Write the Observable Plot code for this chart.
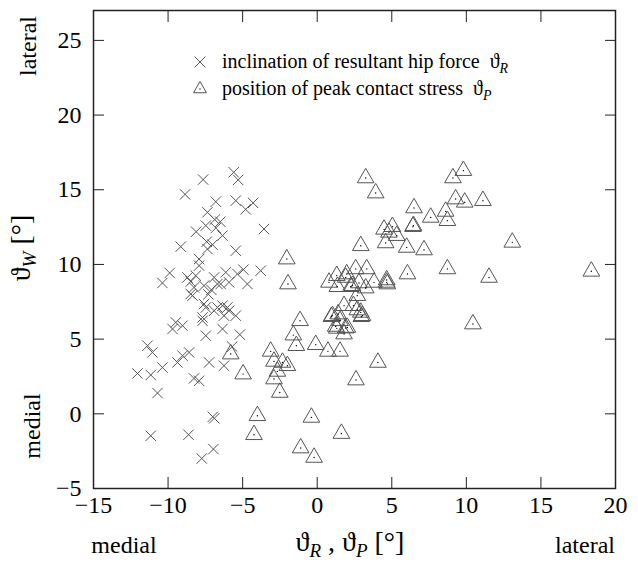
<!DOCTYPE html>
<html><head><meta charset="utf-8">
<script src="https://cdn.jsdelivr.net/npm/d3@7"></script>
<script src="https://cdn.jsdelivr.net/npm/@observablehq/plot@0.6"></script>
<style>body{margin:0;background:#fff}</style>
</head><body><div id="chart"></div>
<script>
const xTicks = [-15, -10, -5, 0, 5, 10, 15, 20];
const yTicks = [-5, 0, 5, 10, 15, 20, 25];

// inclination of resultant hip force (crosses)
const resultantX = [-5.6,-5.3,-7.65,-8.86,-6.8,-5.46,-4.3,-4.8,-7.36,-6.87,-6.5,-3.57,-7.47,-8.12,-6.8,-6.35,-7.41,-7.02,-9.15,-7.36,-5.46,-7.92,-7.92,-9.89,-10.38,-8.7,-8.48,-7.59,-8.26,-6.91,-6.13,-4.95,-3.79,-5.35,-4.68,-5.91,-6.69,-8.48,-8.36,-7.47,-6.91,-6.02,-5.46,-6.25,-7.69,-9.48,-9.03,-9.7,-6.35,-7.47,-5.19,-5.7,-11.38,-11.05,-8.59,-9.03,-9.37,-10.38,-7.25,-6.25,-12.05,-11.16,-8.26,-7.92,-10.71,-7.0,-6.9,-11.16,-8.63,-6.96,-7.74,-8.14,-7.59,-6.69,-6.35,-5.91,-7.69,-6.47,-7.1,-7.3];
const resultantY = [16.17,15.66,15.68,14.69,14.2,14.27,14.12,13.69,13.49,13.0,12.86,12.37,12.6,12.19,12.44,11.93,11.52,11.32,11.19,11.03,10.92,10.36,9.92,9.43,8.76,9.13,8.85,8.58,8.46,9.13,9.47,9.65,9.58,9.36,8.69,8.8,8.69,8.02,7.91,7.12,6.9,7.12,6.57,6.57,6.23,6.12,5.9,5.68,5.68,5.23,5.3,4.5,4.56,4.11,4.11,3.89,3.44,3.1,3.44,3.22,2.7,2.6,2.37,2.21,1.39,-0.2,-0.3,-1.47,-1.4,-2.36,-2.99,9.25,7.35,7.12,7.24,6.9,6.45,8.69,8.3,8.0];

// position of peak contact stress (triangles)
const peakX = [-5.8,-4.97,-3.12,-2.9,-2.33,-2.0,-2.67,-2.9,-2.51,-4.01,-4.24,-1.11,-0.21,-0.39,1.62,-1.15,-1.6,-1.4,-0.1,0.72,1.53,4.07,2.6,0.95,1.4,1.53,1.31,1.91,1.8,1.8,2.43,2.69,2.92,2.96,2.69,0.79,1.35,2.25,3.25,3.81,4.66,-1.96,3.25,3.92,6.49,7.61,8.61,8.73,4.48,5.04,4.81,5.33,6.42,6.45,4.59,6.0,7.16,2.92,-2.04,6.05,8.73,1.31,1.98,2.58,3.32,4.66,9.8,9.1,9.28,9.89,11.11,13.08,11.52,18.38,10.44,1.91,2.36,2.8,4.7,3.03,1.02,1.24,2.02];
const peakY = [4.0,2.66,4.18,3.51,3.44,3.22,2.84,2.33,1.43,-0.13,-1.4,-2.29,-2.92,-0.24,-1.32,6.23,5.27,4.56,4.63,4.18,4.18,3.44,2.26,6.5,6.68,6.23,5.72,5.74,5.34,7.24,7.24,6.95,6.79,6.5,7.91,8.8,8.51,8.51,8.42,8.8,8.8,8.69,15.79,14.78,13.78,13.15,13.55,12.93,12.35,12.53,12.15,11.93,12.53,12.6,11.44,11.14,10.97,11.25,10.36,9.36,9.7,9.25,9.36,9.7,9.7,8.96,16.28,15.79,14.38,14.16,14.27,11.48,9.13,9.54,6.01,9.13,8.58,8.76,8.69,6.57,6.57,5.85,5.78];

const resultant = resultantX.map((x, i) => ({x, y: resultantY[i]}));
const peak = peakX.map((x, i) => ({x, y: peakY[i]}));

const FONT = "Liberation Serif, Times New Roman, DejaVu Serif, serif";

const svg = Plot.plot({
  width: 638,
  height: 563,
  marginLeft: 93,
  marginRight: 23,
  marginTop: 10,
  marginBottom: 75,
  style: {fontFamily: FONT, fontSize: "24px", background: "#fff", color: "#000"},
  x: {domain: [-15, 20], axis: null},
  y: {domain: [-5, 27], axis: null},
  marks: [
    Plot.axisX(xTicks, {anchor: "bottom", tickSize: -11, fill: "none", stroke: "#222", label: null}),
    Plot.axisX(xTicks, {anchor: "top", tickSize: -11, fill: "none", stroke: "#222", label: null}),
    Plot.axisY(yTicks, {anchor: "left", tickSize: -11, fill: "none", stroke: "#222", label: null}),
    Plot.axisY(yTicks, {anchor: "right", tickSize: -11, fill: "none", stroke: "#222", label: null}),
    Plot.axisX(xTicks, {anchor: "bottom", tickSize: 0, tickPadding: 7, fontSize: 24, fontFamily: FONT, fill: "#000", label: null}),
    Plot.axisY(yTicks, {anchor: "left", tickSize: 0, tickPadding: 12, fontSize: 24, fontFamily: FONT, fill: "#000", label: null}),
    Plot.dot(resultant, {x: "x", y: "y", symbol: "times", r: 4.8, stroke: "#555", strokeWidth: 1}),
    Plot.dot(peak, {x: "x", y: "y", symbol: "triangle", r: 6.2, stroke: "#555", strokeWidth: 1, fill: "none"}),
    Plot.dot(peak, {x: "x", y: "y", r: 0.7, fill: "#000", stroke: "none"}),
    Plot.frame({stroke: "#222", strokeWidth: 1.5})
  ]
});
document.getElementById("chart").appendChild(svg);

const s = d3.select(svg);
const g = s.append("g").attr("font-family", FONT).attr("fill", "#000").attr("text-anchor", "start");

function label(parent, parts, attrs) {
  const t = parent.append("text");
  Object.entries(attrs).forEach(([k, v]) => t.attr(k, v));
  let shifted = 0;
  parts.forEach(p => {
    const ts = t.append("tspan").text(p.t);
    const want = p.sub ? p.sub : 0;
    if (want !== shifted) { ts.attr("dy", want - shifted); shifted = want; }
    if (p.size) ts.attr("font-size", p.size);
    if (p.italic) ts.attr("font-style", "italic");
  });
  return t;
}

// legend
g.append("path").attr("d", d3.symbol(d3.symbolTimes, Math.PI * 25)()).attr("transform", "translate(200,62)").attr("stroke", "#555").attr("fill", "none");
g.append("path").attr("d", d3.symbol(d3.symbolTriangle2, Math.PI * 6.2 * 6.2)()).attr("transform", "translate(200,89)").attr("stroke", "#555").attr("fill", "none");
g.append("circle").attr("cx", 200).attr("cy", 89).attr("r", 0.7).attr("fill", "#000");
label(g, [{t: "inclination of resultant hip force  ϑ"}, {t: "R", sub: 5, size: 14, italic: true}], {x: 222, y: 68, "font-size": 20, "text-anchor": "start"});
label(g, [{t: "position of peak contact stress  ϑ"}, {t: "P", sub: 5, size: 14, italic: true}], {x: 222, y: 95, "font-size": 20, "text-anchor": "start"});

// axis titles
label(g, [{t: "ϑ"}, {t: "R", sub: 6, size: 19, italic: true}, {t: " , ϑ"}, {t: "P", sub: 6, size: 19, italic: true}, {t: " [°]"}], {x: 350, y: 551, "font-size": 28, "text-anchor": "middle"});
label(g, [{t: "ϑ"}, {t: "W", sub: 6, size: 19, italic: true}, {t: " [°]"}], {transform: "translate(30,248) rotate(-90)", "font-size": 28, "text-anchor": "middle"});

// side annotations
g.append("text").attr("x", 124).attr("y", 553).attr("font-size", 24).attr("text-anchor", "middle").text("medial");
g.append("text").attr("x", 615).attr("y", 553).attr("font-size", 24).attr("text-anchor", "end").text("lateral");
g.append("text").attr("transform", "translate(36,46) rotate(-90)").attr("font-size", 24).attr("text-anchor", "middle").text("lateral");
g.append("text").attr("transform", "translate(40,426) rotate(-90)").attr("font-size", 24).attr("text-anchor", "middle").text("medial");
</script>
</body></html>
